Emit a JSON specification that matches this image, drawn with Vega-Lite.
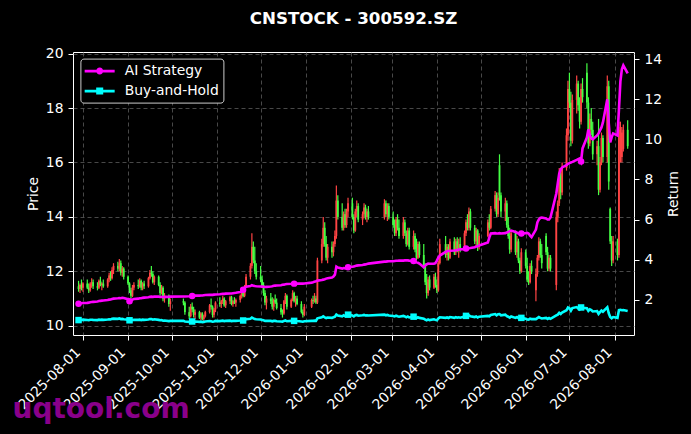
{
"$schema": "https://vega.github.io/schema/vega-lite/v6.json",
"width": 561,
"height": 283,
"autosize": {"type": "none"},
"padding": {"left": 73, "top": 52, "right": 57, "bottom": 99},
"background": "#000000",
"title": {"text": "CNSTOCK - 300592.SZ", "color": "#ffffff", "font": "DejaVu Sans", "fontSize": 16.7, "fontWeight": "bold", "anchor": "middle", "baseline": "alphabetic", "offset": 6},
"config": {
  "view": {"stroke": "#ffffff", "strokeWidth": 1},
  "font": "DejaVu Sans",
  "axis": {"labelFont": "DejaVu Sans", "labelFontSize": 13.9, "labelColor": "#ffffff", "titleFont": "DejaVu Sans", "titleFontSize": 13.9, "titleFontWeight": "normal", "titleColor": "#ffffff", "tickColor": "#ffffff", "tickSize": 5, "tickWidth": 1, "domain": false, "gridColor": "#5a5a5a", "gridDash": [4, 3], "gridWidth": 0.8, "labelPadding": 5}
},
"data": {
  "values": "date,o,h,l,c,ai,bh\n2025-07-29,11.45,11.65,11.25,11.35,1.80,0.98\n2025-07-30,11.35,11.55,11.2,11.5,1.81,0.99\n2025-07-31,11.5,11.7,11.3,11.4,1.82,0.98\n2025-08-01,11.4,11.6,11.25,11.55,1.83,1.00\n2025-08-04,11.55,11.7,11.35,11.4,1.84,0.98\n2025-08-05,11.4,11.55,11.2,11.3,1.85,0.97\n2025-08-06,11.3,11.6,11.25,11.55,1.87,1.00\n2025-08-07,11.55,11.75,11.4,11.6,1.88,1.00\n2025-08-08,11.6,11.7,11.35,11.45,1.89,0.99\n2025-08-11,11.45,11.6,11.3,11.4,1.91,0.98\n2025-08-12,11.4,11.7,11.35,11.65,1.93,1.00\n2025-08-13,11.65,11.8,11.45,11.5,1.94,0.99\n2025-08-14,11.5,11.6,11.3,11.55,1.95,1.00\n2025-08-15,11.55,11.7,11.4,11.45,1.96,0.99\n2025-08-18,11.45,11.75,11.4,11.7,1.98,1.01\n2025-08-19,11.7,11.95,11.6,11.85,2.00,1.02\n2025-08-20,11.85,12.0,11.65,11.75,2.01,1.01\n2025-08-21,11.75,12.15,11.7,12.05,2.03,1.04\n2025-08-22,12.05,12.3,11.9,12.2,2.05,1.05\n2025-08-25,12.2,12.35,12.0,12.1,2.07,1.04\n2025-08-26,12.1,12.45,12.0,12.3,2.08,1.06\n2025-08-27,12.3,12.4,11.85,11.95,2.07,1.03\n2025-08-28,11.95,12.2,11.8,12.1,2.09,1.04\n2025-08-29,12.1,12.15,11.7,11.8,2.08,1.02\n2025-09-01,11.8,11.85,11.5,11.55,2.02,1.00\n2025-09-02,11.55,11.6,11.2,11.3,1.92,0.97\n2025-09-03,11.3,11.4,11.0,11.1,1.95,0.96\n2025-09-04,11.1,11.5,11.05,11.4,2.00,0.98\n2025-09-05,11.4,11.6,11.3,11.5,2.03,0.99\n2025-09-08,11.5,11.7,11.35,11.45,2.05,0.99\n2025-09-09,11.45,11.75,11.4,11.65,2.07,1.00\n2025-09-10,11.65,11.7,11.3,11.4,2.07,0.98\n2025-09-11,11.4,11.6,11.3,11.55,2.09,1.00\n2025-09-12,11.55,11.65,11.35,11.45,2.10,0.99\n2025-09-15,11.45,11.8,11.4,11.75,2.12,1.01\n2025-09-16,11.75,12.05,11.7,11.95,2.14,1.03\n2025-09-17,11.95,12.2,11.8,11.9,2.15,1.03\n2025-09-18,11.9,12.0,11.55,11.6,2.14,1.00\n2025-09-19,11.6,11.85,11.5,11.8,2.15,1.02\n2025-09-22,11.8,11.85,11.45,11.5,2.15,0.99\n2025-09-23,11.5,11.6,11.1,11.2,2.13,0.97\n2025-09-24,11.2,11.5,11.15,11.4,2.14,0.98\n2025-09-25,11.4,11.45,10.9,11.0,2.13,0.95\n2025-09-26,11.0,11.2,10.85,11.1,2.14,0.96\n2025-09-29,11.1,11.15,10.7,10.8,2.14,0.93\n2025-09-30,10.8,11.0,10.55,10.9,2.15,0.94\n2025-10-09,10.9,11.0,10.75,10.85,2.16,0.94\n2025-10-10,10.85,10.9,10.4,10.5,2.16,0.91\n2025-10-13,10.5,10.7,10.25,10.35,2.17,0.89\n2025-10-14,10.35,10.8,10.3,10.7,2.18,0.92\n2025-10-15,10.7,10.85,10.5,10.6,2.18,0.91\n2025-10-16,10.6,10.7,10.3,10.4,2.19,0.90\n2025-10-17,10.4,10.6,10.25,10.5,2.20,0.91\n2025-10-20,10.5,10.55,10.25,10.3,2.20,0.89\n2025-10-21,10.3,10.5,10.2,10.45,2.21,0.90\n2025-10-22,10.45,10.5,10.2,10.25,2.21,0.88\n2025-10-23,10.25,10.4,10.15,10.35,2.22,0.89\n2025-10-24,10.35,10.55,10.3,10.5,2.23,0.91\n2025-10-27,10.5,10.8,10.45,10.75,2.24,0.93\n2025-10-28,10.75,11.0,10.6,10.7,2.24,0.92\n2025-10-29,10.7,10.75,10.3,10.4,2.24,0.90\n2025-10-30,10.4,10.65,10.3,10.6,2.25,0.91\n2025-10-31,10.6,10.9,10.5,10.85,2.26,0.94\n2025-11-03,10.85,11.05,10.7,10.8,2.27,0.93\n2025-11-04,10.8,10.95,10.65,10.9,2.28,0.94\n2025-11-05,10.9,11.1,10.8,11.0,2.29,0.95\n2025-11-06,11.0,11.05,10.7,10.75,2.29,0.93\n2025-11-07,10.75,10.95,10.65,10.9,2.30,0.94\n2025-11-10,10.9,11.1,10.8,11.05,2.31,0.95\n2025-11-11,11.05,11.1,10.75,10.8,2.31,0.93\n2025-11-12,10.8,10.95,10.7,10.9,2.32,0.94\n2025-11-13,10.9,11.05,10.8,10.85,2.33,0.94\n2025-11-14,10.85,11.0,10.7,10.95,2.34,0.94\n2025-11-17,10.95,11.15,10.85,11.1,2.38,0.96\n2025-11-18,11.1,11.3,11.0,11.25,2.40,0.97\n2025-11-19,11.25,11.35,11.05,11.1,2.50,0.96\n2025-11-20,11.1,11.5,11.05,11.45,2.60,0.99\n2025-11-21,11.45,11.9,11.4,11.8,2.65,1.02\n2025-11-24,11.8,12.3,11.7,12.2,2.68,1.05\n2025-11-25,12.2,13.4,12.1,12.9,2.72,1.11\n2025-11-26,12.9,13.1,12.3,12.4,2.70,1.07\n2025-11-27,12.4,12.9,11.9,12.0,2.68,1.03\n2025-11-28,12.0,12.3,11.7,11.8,2.67,1.02\n2025-12-01,11.8,12.2,11.6,11.7,2.66,1.01\n2025-12-02,11.7,11.85,11.45,11.5,2.65,0.99\n2025-12-03,11.5,11.6,11.1,11.2,2.64,0.97\n2025-12-04,11.2,11.3,10.75,10.85,2.63,0.94\n2025-12-05,10.85,11.1,10.6,11.0,2.64,0.95\n2025-12-08,11.0,11.2,10.8,10.9,2.66,0.94\n2025-12-09,10.9,11.05,10.6,10.7,2.67,0.92\n2025-12-10,10.7,11.0,10.55,10.95,2.69,0.94\n2025-12-11,10.95,11.15,10.8,10.85,2.70,0.94\n2025-12-12,10.85,11.0,10.6,10.65,2.71,0.92\n2025-12-15,10.65,10.8,10.4,10.5,2.72,0.91\n2025-12-16,10.5,10.6,10.3,10.45,2.74,0.90\n2025-12-17,10.45,10.95,10.4,10.9,2.75,0.94\n2025-12-18,10.9,11.2,10.8,11.1,2.77,0.96\n2025-12-19,11.1,11.15,10.6,10.7,2.78,0.92\n2025-12-22,10.7,11.0,10.65,10.95,2.79,0.94\n2025-12-23,10.95,11.3,10.9,11.2,2.80,0.97\n2025-12-24,11.2,11.25,10.85,10.9,2.80,0.94\n2025-12-25,10.9,11.1,10.7,11.0,2.80,0.95\n2025-12-26,11.0,11.1,10.75,10.8,2.80,0.93\n2025-12-29,10.8,10.9,10.45,10.5,2.80,0.91\n2025-12-30,10.5,10.6,10.3,10.4,2.80,0.90\n2025-12-31,10.4,10.8,10.35,10.7,2.81,0.92\n2026-01-05,10.7,11.0,10.65,10.95,2.85,0.94\n2026-01-06,10.95,11.1,10.8,10.9,2.87,0.94\n2026-01-07,10.9,11.2,10.85,11.0,2.90,0.95\n2026-01-08,11.0,11.1,10.8,10.85,2.92,0.94\n2026-01-09,10.85,12.5,10.8,12.4,2.95,1.07\n2026-01-12,12.4,13.2,12.3,13.0,2.98,1.12\n2026-01-13,13.0,14.0,12.9,13.6,3.00,1.17\n2026-01-14,13.6,13.8,12.9,13.0,3.02,1.12\n2026-01-15,13.0,13.3,12.4,12.5,3.05,1.08\n2026-01-16,12.5,13.0,12.3,12.9,3.07,1.11\n2026-01-19,12.9,13.1,12.5,12.7,3.10,1.09\n2026-01-20,12.7,13.1,12.55,13.0,3.15,1.12\n2026-01-21,13.0,13.5,12.9,13.3,3.25,1.15\n2026-01-22,13.3,15.15,13.2,14.6,3.65,1.26\n2026-01-23,14.6,14.8,13.9,14.0,3.60,1.21\n2026-01-26,14.0,14.5,13.5,13.6,3.55,1.17\n2026-01-27,13.6,14.2,13.5,14.1,3.58,1.22\n2026-01-28,14.1,14.3,13.6,13.7,3.56,1.18\n2026-01-29,13.7,14.3,13.6,14.2,3.60,1.22\n2026-01-30,14.2,14.7,14.0,14.5,3.62,1.25\n2026-02-02,14.5,14.7,13.9,14.0,3.64,1.21\n2026-02-03,14.0,14.1,13.4,13.5,3.66,1.16\n2026-02-04,13.5,14.3,13.45,14.2,3.68,1.22\n2026-02-05,14.2,14.6,14.0,14.4,3.70,1.24\n2026-02-06,14.4,14.5,13.8,13.9,3.71,1.20\n2026-02-09,13.9,14.2,13.7,14.1,3.73,1.22\n2026-02-10,14.1,14.5,13.95,14.35,3.75,1.24\n2026-02-11,14.35,14.45,13.9,14.0,3.76,1.21\n2026-02-12,14.0,14.3,13.8,14.2,3.78,1.22\n2026-02-13,14.2,14.4,13.9,14.0,3.80,1.21\n2026-02-24,14.0,14.65,13.9,14.5,3.90,1.25\n2026-02-25,14.5,14.6,14.0,14.1,3.90,1.22\n2026-02-26,14.1,14.5,13.85,14.4,3.91,1.24\n2026-02-27,14.4,14.5,13.9,14.0,3.92,1.21\n2026-03-02,14.0,14.2,13.6,13.7,3.92,1.18\n2026-03-03,13.7,13.9,13.3,13.4,3.93,1.16\n2026-03-04,13.4,14.0,13.3,13.9,3.94,1.20\n2026-03-05,13.9,14.1,13.5,13.6,3.94,1.17\n2026-03-06,13.6,13.9,13.2,13.3,3.95,1.15\n2026-03-09,13.3,14.0,13.2,13.8,3.95,1.19\n2026-03-10,13.8,13.9,13.3,13.4,3.96,1.16\n2026-03-11,13.4,13.5,12.9,13.0,3.96,1.12\n2026-03-12,13.0,13.6,12.95,13.5,3.96,1.16\n2026-03-13,13.5,13.6,12.8,12.9,3.95,1.11\n2026-03-16,12.9,13.5,12.8,13.3,3.93,1.15\n2026-03-17,13.3,13.4,12.7,12.8,3.90,1.10\n2026-03-18,12.8,13.2,12.4,12.5,3.86,1.08\n2026-03-19,12.5,13.1,12.45,13.0,3.84,1.12\n2026-03-20,13.0,13.1,12.5,12.6,3.80,1.09\n2026-03-23,12.6,13.0,12.1,12.2,3.62,1.05\n2026-03-24,12.2,12.3,11.5,11.6,3.70,1.00\n2026-03-25,11.6,11.9,11.0,11.2,3.76,0.97\n2026-03-26,11.2,11.8,11.1,11.7,3.80,1.01\n2026-03-27,11.7,11.85,11.3,11.4,3.79,0.98\n2026-03-30,11.4,11.9,11.35,11.8,3.80,1.02\n2026-03-31,11.8,11.95,11.4,11.5,3.82,0.99\n2026-04-01,11.5,11.7,11.2,11.3,3.95,0.97\n2026-04-02,11.3,12.4,11.25,12.3,4.10,1.06\n2026-04-03,12.3,13.2,12.25,13.0,4.20,1.12\n2026-04-07,13.0,13.3,12.5,12.6,4.38,1.09\n2026-04-08,12.6,13.0,12.4,12.9,4.42,1.11\n2026-04-09,12.9,13.0,12.4,12.5,4.43,1.08\n2026-04-10,12.5,13.2,12.45,13.1,4.44,1.13\n2026-04-13,13.1,13.25,12.6,12.7,4.45,1.09\n2026-04-14,12.7,13.2,12.6,13.1,4.47,1.13\n2026-04-15,13.1,13.25,12.7,12.8,4.48,1.10\n2026-04-16,12.8,13.2,12.5,13.0,4.50,1.12\n2026-04-17,13.0,13.25,12.7,12.8,4.51,1.10\n2026-04-20,12.8,13.5,12.75,13.4,4.53,1.16\n2026-04-21,13.4,13.9,13.3,13.8,4.55,1.19\n2026-04-22,13.8,14.1,13.5,13.6,4.56,1.17\n2026-04-23,13.6,14.35,13.5,14.2,4.57,1.22\n2026-04-24,14.2,14.3,13.5,13.6,4.58,1.17\n2026-04-27,13.6,13.7,13.0,13.1,4.62,1.13\n2026-04-28,13.1,13.6,12.9,13.5,4.65,1.16\n2026-04-29,13.5,13.55,12.75,12.9,4.67,1.11\n2026-04-30,12.9,13.4,12.8,13.3,4.70,1.15\n2026-05-06,13.3,13.9,13.25,13.8,4.85,1.19\n2026-05-07,13.8,14.1,13.5,13.6,5.10,1.17\n2026-05-08,13.6,14.4,13.55,14.3,5.30,1.23\n2026-05-11,14.3,14.95,14.2,14.8,5.32,1.28\n2026-05-12,14.8,14.9,14.0,14.1,5.30,1.22\n2026-05-13,14.1,14.9,14.0,14.7,5.30,1.27\n2026-05-14,15.9,16.3,14.6,14.8,5.32,1.28\n2026-05-15,14.8,14.9,14.0,14.2,5.30,1.22\n2026-05-18,14.2,14.7,13.85,14.5,5.32,1.25\n2026-05-19,14.5,14.6,13.6,13.7,5.35,1.18\n2026-05-20,13.7,14.0,13.2,13.3,5.38,1.15\n2026-05-21,13.3,13.6,12.65,12.8,5.42,1.10\n2026-05-22,12.8,13.5,12.7,13.4,5.45,1.16\n2026-05-25,13.4,13.5,12.6,12.7,5.38,1.09\n2026-05-26,12.7,13.3,12.5,13.1,5.34,1.13\n2026-05-27,13.1,13.2,12.3,12.4,5.30,1.07\n2026-05-28,12.4,12.5,11.9,12.0,5.30,1.03\n2026-05-29,12.0,12.85,11.95,12.7,5.30,1.09\n2026-06-01,12.7,12.8,12.1,12.2,5.32,1.05\n2026-06-02,12.2,12.5,11.6,11.7,5.33,1.01\n2026-06-03,11.7,12.0,11.5,11.6,5.30,1.00\n2026-06-04,11.6,12.3,11.55,12.2,5.20,1.05\n2026-06-05,12.2,12.4,11.9,12.0,5.12,1.03\n2026-06-08,11.3,12.1,10.9,11.9,5.50,1.03\n2026-06-09,11.9,12.6,11.8,12.5,5.85,1.08\n2026-06-10,12.5,13.25,12.4,13.1,6.00,1.13\n2026-06-11,13.1,13.2,12.5,12.6,6.08,1.09\n2026-06-12,12.6,13.0,12.1,12.3,6.10,1.06\n2026-06-15,13.3,13.4,12.6,12.7,6.05,1.09\n2026-06-16,12.7,12.9,12.0,12.1,6.00,1.04\n2026-06-17,12.1,12.6,12.0,12.5,6.00,1.08\n2026-06-18,12.5,12.6,12.0,12.1,6.10,1.04\n2026-06-22,11.5,14.2,11.3,14.0,7.30,1.21\n2026-06-23,14.0,14.6,13.8,14.5,7.80,1.25\n2026-06-24,14.5,15.8,14.4,15.6,8.30,1.34\n2026-06-25,15.6,15.8,14.65,14.9,8.50,1.28\n2026-06-26,14.9,16.0,14.8,15.8,8.60,1.36\n2026-06-29,15.8,17.25,15.7,17.0,8.72,1.47\n2026-06-30,17.0,19.0,16.8,18.7,8.78,1.61\n2026-07-01,18.7,19.3,18.0,18.2,8.82,1.57\n2026-07-02,18.2,18.6,16.6,16.8,8.85,1.45\n2026-07-03,16.8,18.5,16.7,18.3,8.88,1.58\n2026-07-06,18.3,19.2,17.8,18.9,8.98,1.63\n2026-07-07,18.9,19.0,17.9,18.1,9.02,1.56\n2026-07-08,18.1,18.4,17.25,17.5,9.05,1.51\n2026-07-09,17.5,18.9,17.4,18.7,8.90,1.61\n2026-07-10,18.7,19.1,18.2,18.4,9.55,1.59\n2026-07-13,19.3,19.65,18.0,18.2,10.10,1.57\n2026-07-14,18.2,18.4,16.5,16.7,10.50,1.44\n2026-07-15,16.7,17.8,16.6,17.6,10.20,1.52\n2026-07-16,17.6,18.0,17.0,17.2,10.05,1.48\n2026-07-17,17.2,17.5,16.1,16.3,10.00,1.41\n2026-07-20,16.3,16.8,15.9,16.6,10.20,1.43\n2026-07-21,16.6,17.6,14.8,15.0,10.30,1.29\n2026-07-22,15.0,16.2,14.9,16.0,10.45,1.38\n2026-07-23,16.0,17.1,15.9,16.9,10.60,1.46\n2026-07-24,16.9,17.0,16.0,16.2,10.85,1.40\n2026-07-27,16.2,19.2,16.0,18.8,12.00,1.62\n2026-07-28,18.8,19.0,15.0,15.3,10.80,1.32\n2026-07-29,14.3,14.35,13.0,13.1,9.85,1.13\n2026-07-30,13.1,13.3,12.2,12.4,10.10,1.07\n2026-07-31,12.4,13.3,12.3,13.1,10.30,1.13\n2026-08-03,13.1,13.2,12.4,12.6,10.20,1.09\n2026-08-04,12.6,17.5,12.5,17.2,11.50,1.48\n2026-08-05,16.3,17.5,16.0,17.3,12.90,1.49\n2026-08-06,16.2,17.3,16.0,17.1,13.50,1.47\n2026-08-07,16.5,17.4,16.4,17.2,13.70,1.48\n2026-08-10,17.2,17.55,16.5,16.6,13.30,1.43",
  "format": {"type": "csv", "parse": {"date": "date", "o": "number", "h": "number", "l": "number", "c": "number", "ai": "number", "bh": "number"}}
},
"encoding": {
  "x": {
    "field": "date", "type": "temporal",
    "scale": {"type": "utc", "domain": [{"year": 2025, "month": 7, "date": 28, "hours": 15, "utc": true}, {"year": 2026, "month": 8, "date": 10, "hours": 21, "minutes": 40, "utc": true}]},
    "axis": {
      "values": [
        {"year": 2025, "month": 8, "date": 1, "utc": true},
        {"year": 2025, "month": 9, "date": 1, "utc": true},
        {"year": 2025, "month": 10, "date": 1, "utc": true},
        {"year": 2025, "month": 11, "date": 1, "utc": true},
        {"year": 2025, "month": 12, "date": 1, "utc": true},
        {"year": 2026, "month": 1, "date": 1, "utc": true},
        {"year": 2026, "month": 2, "date": 1, "utc": true},
        {"year": 2026, "month": 3, "date": 1, "utc": true},
        {"year": 2026, "month": 4, "date": 1, "utc": true},
        {"year": 2026, "month": 5, "date": 1, "utc": true},
        {"year": 2026, "month": 6, "date": 1, "utc": true},
        {"year": 2026, "month": 7, "date": 1, "utc": true},
        {"year": 2026, "month": 8, "date": 1, "utc": true}
      ],
      "format": "%Y-%m-%d",
      "labelAngle": -45, "labelAlign": "right", "labelBaseline": "top", "labelOffset": -10,
      "labelOverlap": false, "labelFlush": false, "labelBound": false,
      "grid": true,
      "title": "uqtool.com", "titleColor": "#8a008a", "titleFontSize": 28, "titleFontWeight": "bold",
      "titleX": -61, "titleY": 82, "titleAlign": "left", "titleBaseline": "alphabetic", "titleAngle": 0
    }
  }
},
"layer": [
  {
    "layer": [
      {
        "mark": {"type": "rule", "strokeWidth": 1.2},
        "encoding": {
          "y": {"field": "l", "type": "quantitative", "scale": {"domain": [9.66, 20.06], "zero": false, "nice": false},
                "axis": {"title": "Price", "orient": "left", "values": [10, 12, 14, 16, 18, 20], "grid": true, "titlePadding": 5}},
          "y2": {"field": "h"},
          "color": {"condition": {"test": "datum.c > datum.o", "value": "#ff4444"}, "value": "#44ff44"}
        }
      },
      {
        "mark": {"type": "bar", "size": 1.8},
        "encoding": {
          "y": {"field": "o", "type": "quantitative", "scale": {"domain": [9.66, 20.06], "zero": false, "nice": false},
                "axis": {"title": "Price", "orient": "left", "values": [10, 12, 14, 16, 18, 20], "grid": true, "titlePadding": 5}},
          "y2": {"field": "c"},
          "color": {"condition": {"test": "datum.c > datum.o", "value": "#ff4444"}, "value": "#44ff44"}
        }
      }
    ]
  },
  {
    "transform": [{"fold": ["ai", "bh"], "as": ["series", "ret"]}],
    "layer": [
      {
        "mark": {"type": "line", "strokeWidth": 2.6},
        "encoding": {
          "y": {"field": "ret", "type": "quantitative", "scale": {"domain": [0.235, 14.365], "zero": false, "nice": false},
                "axis": {"title": "Return", "orient": "right", "values": [2, 4, 6, 8, 10, 12, 14], "grid": false, "titlePadding": 5, "titleAngle": 270, "titleBaseline": "top"}},
          "color": {
            "field": "series", "type": "nominal",
            "scale": {"domain": ["ai", "bh"], "range": ["#ff00ff", "#00ffff"]},
            "legend": {
              "title": null, "orient": "none", "legendX": 7.4, "legendY": 6.6,
              "fillColor": "#000000", "strokeColor": "#cccccc", "cornerRadius": 3, "padding": 4.5,
              "symbolSize": 256, "symbolStrokeWidth": 0,
              "labelColor": "#ffffff", "labelFont": "DejaVu Sans", "labelFontSize": 13.9, "labelOffset": 23.8, "rowPadding": 5,
              "labelExpr": "datum.value == 'ai' ? 'AI Strategy' : 'Buy-and-Hold'",
              "encode": {"symbols": {"update": {
                "shape": {"signal": "datum.value == 'ai' ? 'M-1.03,-0.175H2.72V0.175H-1.03Z M1.29,0A0.44,0.44 0 1,1 0.41,0A0.44,0.44 0 1,1 1.29,0Z' : 'M-1.03,-0.175H2.72V0.175H-1.03Z M0.41,-0.44H1.29V0.44H0.41Z'"},
                "fill": {"signal": "datum.value == 'ai' ? '#ff00ff' : '#00ffff'"},
                "fillOpacity": {"value": 1},
                "opacity": {"value": 1},
                "stroke": {"value": "transparent"},
                "strokeWidth": {"value": 0}
              }}}
            }
          }
        }
      },
      {
        "transform": [
          {"filter": "indexof(['2025-07-29','2025-09-02','2025-10-15','2025-11-19','2025-12-24','2026-01-30','2026-03-16','2026-04-21','2026-05-29','2026-07-09'], utcFormat(datum.date, '%Y-%m-%d')) >= 0"},
          {"filter": "datum.series == 'ai'"}
        ],
        "mark": {"type": "point", "filled": true, "size": 42, "opacity": 1, "shape": "circle", "color": "#ff00ff"},
        "encoding": {
          "y": {"field": "ret", "type": "quantitative"}
        }
      },
      {
        "transform": [
          {"filter": "indexof(['2025-07-29','2025-09-02','2025-10-15','2025-11-19','2025-12-24','2026-01-30','2026-03-16','2026-04-21','2026-05-29','2026-07-09'], utcFormat(datum.date, '%Y-%m-%d')) >= 0"},
          {"filter": "datum.series == 'bh'"}
        ],
        "mark": {"type": "point", "filled": true, "size": 42, "opacity": 1, "shape": "square", "color": "#00ffff"},
        "encoding": {
          "y": {"field": "ret", "type": "quantitative"}
        }
      }
    ]
  }
],
"resolve": {"scale": {"y": "independent"}}
}
